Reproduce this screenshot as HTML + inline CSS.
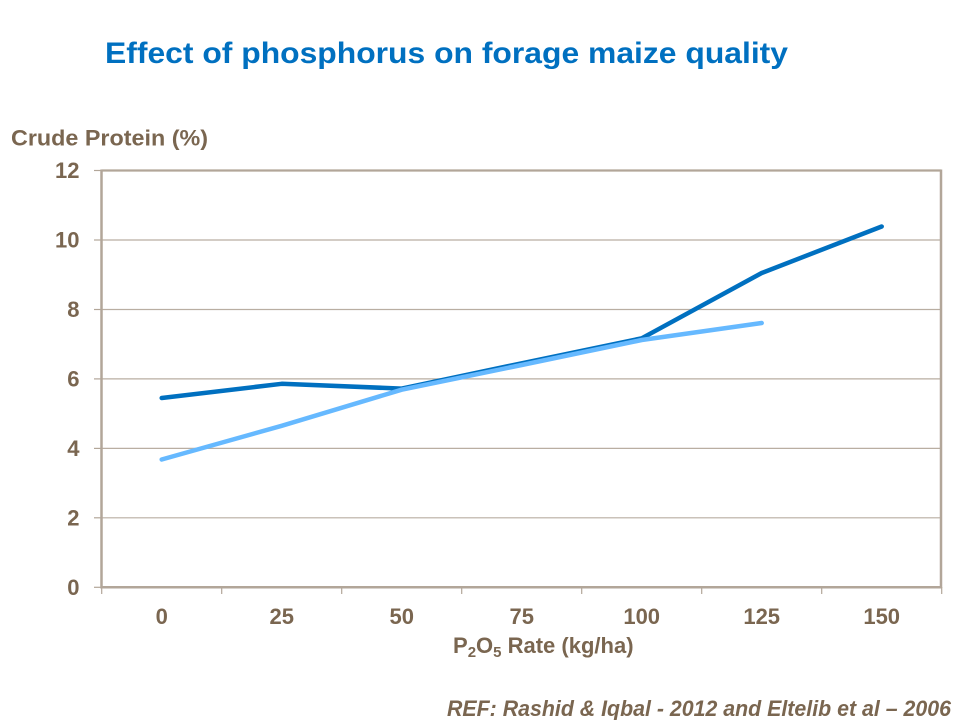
<!DOCTYPE html>
<html>
<head>
<meta charset="utf-8">
<style>
  html, body { margin: 0; padding: 0; background: #ffffff; }
  body { width: 960px; height: 720px; overflow: hidden; }
  svg { display: block; }
  text { font-family: "Liberation Sans", Arial, sans-serif; }
</style>
</head>
<body>
<svg width="960" height="720" viewBox="0 0 960 720" xmlns="http://www.w3.org/2000/svg">
  <rect width="960" height="720" fill="#ffffff"/>

  <!-- Title -->
  <text x="105" y="63" font-size="30" font-weight="bold" fill="#0070C0" textLength="683" lengthAdjust="spacingAndGlyphs">Effect of phosphorus on forage maize quality</text>

  <!-- Y axis title -->
  <text x="11" y="145.5" font-size="22" font-weight="bold" fill="#7A6650" textLength="197" lengthAdjust="spacingAndGlyphs">Crude Protein (%)</text>

  <!-- gridlines -->
  <g stroke="#B9AEA2" stroke-width="1.2">
    <line x1="101.5" y1="517.8" x2="941" y2="517.8"/>
    <line x1="101.5" y1="448.4" x2="941" y2="448.4"/>
    <line x1="101.5" y1="378.9" x2="941" y2="378.9"/>
    <line x1="101.5" y1="309.5" x2="941" y2="309.5"/>
    <line x1="101.5" y1="240.0" x2="941" y2="240.0"/>
  </g>

  <!-- plot frame -->
  <g stroke="#B2A699" fill="none">
    <line x1="101.5" y1="170.5" x2="941" y2="170.5" stroke-width="2.2"/>
    <line x1="941" y1="169.5" x2="941" y2="588" stroke-width="2.5"/>
    <line x1="101.5" y1="169.5" x2="101.5" y2="588.5" stroke-width="2.5"/>
    <line x1="100.5" y1="587.3" x2="942" y2="587.3" stroke-width="2.5"/>
  </g>

  <!-- y ticks -->
  <g stroke="#B2A699" stroke-width="1.2">
    <line x1="94" y1="587.3" x2="101" y2="587.3"/>
    <line x1="94" y1="517.8" x2="101" y2="517.8"/>
    <line x1="94" y1="448.4" x2="101" y2="448.4"/>
    <line x1="94" y1="378.9" x2="101" y2="378.9"/>
    <line x1="94" y1="309.5" x2="101" y2="309.5"/>
    <line x1="94" y1="240.0" x2="101" y2="240.0"/>
    <line x1="94" y1="170.5" x2="101" y2="170.5"/>
  </g>

  <!-- x ticks -->
  <g stroke="#B2A699" stroke-width="1.2">
    <line x1="101.7" y1="587" x2="101.7" y2="594"/>
    <line x1="221.7" y1="587" x2="221.7" y2="594"/>
    <line x1="341.7" y1="587" x2="341.7" y2="594"/>
    <line x1="461.7" y1="587" x2="461.7" y2="594"/>
    <line x1="581.7" y1="587" x2="581.7" y2="594"/>
    <line x1="701.7" y1="587" x2="701.7" y2="594"/>
    <line x1="821.7" y1="587" x2="821.7" y2="594"/>
    <line x1="941.7" y1="587" x2="941.7" y2="594"/>
  </g>

  <!-- y labels -->
  <g font-size="22" font-weight="bold" fill="#7A6650" text-anchor="end">
    <text x="79.5" y="595">0</text>
    <text x="79.5" y="525.5">2</text>
    <text x="79.5" y="456">4</text>
    <text x="79.5" y="386.5">6</text>
    <text x="79.5" y="317">8</text>
    <text x="79.5" y="247.5">10</text>
    <text x="79.5" y="178">12</text>
  </g>

  <!-- x labels -->
  <g font-size="22" font-weight="bold" fill="#7A6650" text-anchor="middle">
    <text x="161.7" y="624">0</text>
    <text x="281.7" y="624">25</text>
    <text x="401.7" y="624">50</text>
    <text x="521.7" y="624">75</text>
    <text x="641.7" y="624">100</text>
    <text x="761.7" y="624">125</text>
    <text x="881.7" y="624">150</text>
  </g>

  <!-- x axis title -->
  <text x="453" y="653" font-size="22" font-weight="bold" fill="#7A6650">P<tspan font-size="15" dy="4">2</tspan><tspan dy="-4">O</tspan><tspan font-size="15" dy="4">5</tspan><tspan dy="-4"> Rate (kg/ha)</tspan></text>

  <!-- dark series -->
  <polyline fill="none" stroke="#0070C0" stroke-width="4.5" stroke-linecap="round" stroke-linejoin="round"
    points="161.7,398.0 281.7,383.8 401.7,388.6 521.7,363.3 641.7,338.3 761.7,273.0 881.7,226.5"/>

  <!-- light series -->
  <polyline fill="none" stroke="#66B9FF" stroke-width="4.5" stroke-linecap="round" stroke-linejoin="round"
    points="161.7,459.5 281.7,425.8 401.7,389.7 521.7,365.0 641.7,340.0 761.7,323.0"/>

  <!-- reference -->
  <text x="447" y="716" font-size="22" font-weight="bold" font-style="italic" fill="#7A6650" textLength="504" lengthAdjust="spacingAndGlyphs">REF: Rashid &amp; Iqbal - 2012 and Eltelib et al – 2006</text>
</svg>
</body>
</html>
